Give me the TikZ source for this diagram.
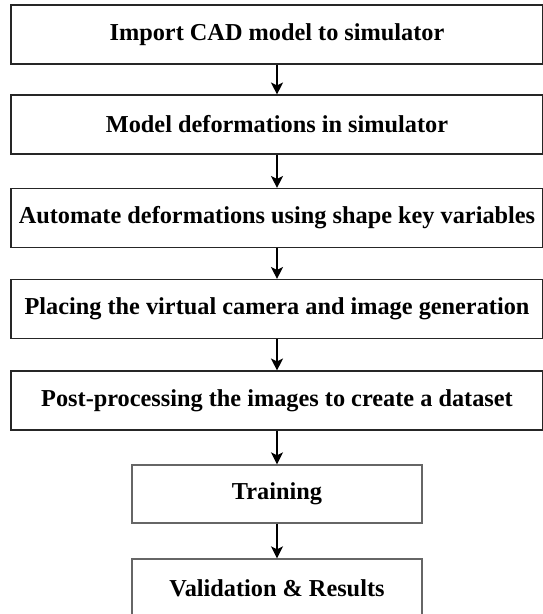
\documentclass[tikz,border=0pt]{standalone}
\usepackage{fontspec}
\setmainfont{Liberation Serif}
\usetikzlibrary{arrows.meta}
\begin{document}
\begin{tikzpicture}[x=1pt,y=1pt,
  mainbox/.style={draw=black!85, line width=1.1pt, minimum width=532pt, minimum height=59pt, inner sep=0pt, font=\fontsize{24.3}{27}\selectfont\bfseries},
  smallbox/.style={draw=black!60, line width=1.3pt, minimum width=290pt, minimum height=58pt, inner sep=0pt, font=\fontsize{24.3}{27}\selectfont\bfseries},
  flow/.style={line width=1.8pt, -{Stealth[length=12pt,width=12pt,inset=3pt]}}]
\useasboundingbox (0,0) rectangle (542,-614);
\node[mainbox] (b1) at (277,-34.5) {Import CAD model to simulator};
\node[mainbox] (b2) at (277,-124.5) {Model deformations in simulator};
\node[mainbox] (b3) at (277,-218) {Automate deformations using shape key variables};
\node[mainbox] (b4) at (277,-309) {Placing the virtual camera and image generation};
\node[mainbox] (b5) at (277,-400.5) {Post-processing the images to create a dataset};
\node[smallbox] (b6) at (277,-494) {Training};
\node[smallbox] (b7) at (277,-588) {Validation \& Results};
\draw[flow] (b1) -- (b2);
\draw[flow] (b2) -- (b3);
\draw[flow] (b3) -- (b4);
\draw[flow] (b4) -- (b5);
\draw[flow] (b5) -- (b6);
\draw[flow] (b6) -- (b7);
\end{tikzpicture}
\end{document}
